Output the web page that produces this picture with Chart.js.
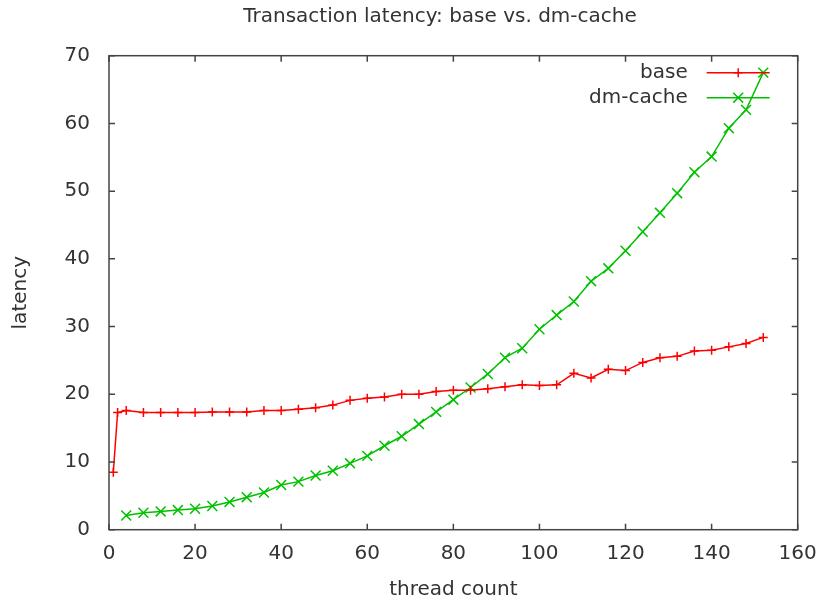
<!DOCTYPE html>
<html>
<head>
<meta charset="utf-8">
<script src="https://cdn.jsdelivr.net/npm/chart.js@4.4.1/dist/chart.umd.min.js"></script>
<style>
  html, body { margin: 0; padding: 0; background: #fff; }
  #wrap { width: 822px; height: 605px; }
</style>
</head>
<body>
<div id="wrap"><canvas id="chart"></canvas></div>
<script>
// thread counts for each series
const baseThreads = [1, 2, 4, 8, 12, 16, 20, 24, 28, 32, 36, 40, 44, 48, 52, 56, 60, 64, 68, 72, 76,
    80, 84, 88, 92, 96, 100, 104, 108, 112, 116, 120, 124, 128, 132, 136, 140, 144, 148, 152];
const baseLatency = [8.5, 17.3, 17.6, 17.3, 17.3, 17.3, 17.3, 17.4, 17.4, 17.4, 17.6, 17.6, 17.8, 18.0,
    18.4, 19.1, 19.4, 19.6, 20.0, 20.0, 20.4, 20.6, 20.6, 20.8, 21.1, 21.4, 21.3, 21.4, 23.1, 22.4,
    23.7, 23.5, 24.7, 25.4, 25.6, 26.4, 26.5, 27.0, 27.5, 28.4];

const cacheThreads = [4, 8, 12, 16, 20, 24, 28, 32, 36, 40, 44, 48, 52, 56, 60, 64, 68, 72, 76,
    80, 84, 88, 92, 96, 100, 104, 108, 112, 116, 120, 124, 128, 132, 136, 140, 144, 148, 152];
const cacheLatency = [2.1, 2.5, 2.7, 2.9, 3.1, 3.5, 4.1, 4.8, 5.5, 6.6, 7.1, 8.0, 8.7, 9.8, 10.9,
    12.4, 13.8, 15.6, 17.4, 19.2, 21.0, 23.0, 25.4, 26.8, 29.6, 31.7, 33.7, 36.7, 38.6, 41.2, 44.0,
    46.8, 49.7, 52.8, 55.1, 59.3, 62.0, 67.5];

const xTicks = [0, 20, 40, 60, 80, 100, 120, 140, 160];
const yTicks = [0, 10, 20, 30, 40, 50, 60, 70];

const TITLE = "Transaction latency: base vs. dm-cache";
const RED = "#ff0000";
const GREEN = "#00c000";
const FONT = "'DejaVu Sans', sans-serif";
const TEXT = "#333333";

function toPoints(xs, ys) {
    return xs.map((x, i) => ({ x: x, y: ys[i] }));
}

// gnuplot style frame with inward ticks on all four sides
const framePlugin = {
    id: "frame",
    afterDatasetsDraw(chart) {
        const ctx = chart.ctx;
        const a = chart.chartArea;
        const xs = chart.scales.x;
        const ys = chart.scales.y;
        const len = 6;
        ctx.save();
        ctx.strokeStyle = "#444444";
        ctx.lineWidth = 1.5;
        ctx.beginPath();
        xTicks.forEach((v) => {
            const px = xs.getPixelForValue(v);
            ctx.moveTo(px, a.bottom);
            ctx.lineTo(px, a.bottom - len);
            ctx.moveTo(px, a.top);
            ctx.lineTo(px, a.top + len);
        });
        yTicks.forEach((v) => {
            const py = ys.getPixelForValue(v);
            ctx.moveTo(a.left, py);
            ctx.lineTo(a.left + len, py);
            ctx.moveTo(a.right, py);
            ctx.lineTo(a.right - len, py);
        });
        ctx.stroke();
        ctx.strokeRect(a.left, a.top, a.right - a.left, a.bottom - a.top);
        ctx.restore();
    },
};

// title a bit right of the canvas centre, like gnuplot puts it
const titlePlugin = {
    id: "plotTitle",
    afterDraw(chart) {
        const ctx = chart.ctx;
        ctx.save();
        ctx.font = "20px " + FONT;
        ctx.fillStyle = TEXT;
        ctx.textAlign = "center";
        ctx.textBaseline = "middle";
        ctx.fillText(TITLE, 440, 16.5);
        ctx.restore();
    },
};

// legend inside the plot, text on the left of the sample line
const keyPlugin = {
    id: "key",
    afterDraw(chart) {
        const ctx = chart.ctx;
        const a = chart.chartArea;
        const textRight = a.right - 110;
        const lineStart = a.right - 91;
        const lineEnd = a.right - 28;
        ctx.save();
        ctx.font = "20px " + FONT;
        ctx.textAlign = "right";
        ctx.textBaseline = "middle";
        chart.data.datasets.forEach((ds, i) => {
            const y = a.top + 17 + i * 25;
            ctx.fillStyle = TEXT;
            ctx.fillText(ds.label, textRight, y);
            ctx.strokeStyle = ds.borderColor;
            ctx.lineWidth = 1.5;
            ctx.beginPath();
            ctx.moveTo(lineStart, y);
            ctx.lineTo(lineEnd, y);
            ctx.stroke();
            Chart.helpers.drawPoint(ctx, {
                pointStyle: ds.pointStyle,
                radius: ds.pointRadius,
                borderWidth: 1.5,
            }, (lineStart + lineEnd) / 2, y);
        });
        ctx.restore();
    },
};

new Chart(document.getElementById("chart"), {
    type: "scatter",
    data: {
        datasets: [
            {
                label: "base",
                data: toPoints(baseThreads, baseLatency),
                showLine: true,
                borderColor: RED,
                backgroundColor: RED,
                borderWidth: 1.5,
                pointStyle: "cross",
                pointRadius: 4.5,
                pointBorderWidth: 1.5,
            },
            {
                label: "dm-cache",
                data: toPoints(cacheThreads, cacheLatency),
                showLine: true,
                borderColor: GREEN,
                backgroundColor: GREEN,
                borderWidth: 1.5,
                pointStyle: "crossRot",
                pointRadius: 7,
                pointBorderWidth: 1.5,
            },
        ],
    },
    options: {
        responsive: true,
        maintainAspectRatio: false,
        animation: false,
        layout: { padding: { left: 0, right: 24.3, top: 55.7, bottom: 0 } },
        plugins: {
            legend: { display: false },
            tooltip: { enabled: false },
            title: { display: false },
        },
        scales: {
            x: {
                type: "linear",
                min: 0,
                max: 160,
                afterBuildTicks: (scale) => {
                    scale.ticks = xTicks.map((v) => ({ value: v }));
                },
                afterFit: (scale) => {
                    scale.height = 75.3;
                    scale.paddingLeft = 0;
                    scale.paddingRight = 0;
                },
                grid: { display: false, drawTicks: false },
                border: { display: false },
                ticks: {
                    color: TEXT,
                    padding: 12,
                    maxRotation: 0,
                    font: { family: FONT, size: 20 },
                },
                title: {
                    display: true,
                    text: "thread count",
                    color: TEXT,
                    font: { family: FONT, size: 20 },
                    padding: { top: 0, bottom: 3 },
                },
            },
            y: {
                type: "linear",
                min: 0,
                max: 70,
                afterBuildTicks: (scale) => {
                    scale.ticks = yTicks.map((v) => ({ value: v }));
                },
                afterFit: (scale) => {
                    scale.width = 109;
                    scale.paddingTop = 0;
                    scale.paddingBottom = 0;
                },
                grid: { display: false, drawTicks: false },
                border: { display: false },
                ticks: {
                    color: TEXT,
                    padding: 19,
                    font: { family: FONT, size: 20 },
                },
                title: {
                    display: true,
                    text: "latency",
                    color: TEXT,
                    font: { family: FONT, size: 20 },
                    padding: { top: 8.7, bottom: 0 },
                },
            },
        },
    },
    plugins: [framePlugin, titlePlugin, keyPlugin],
});
</script>
</body>
</html>
